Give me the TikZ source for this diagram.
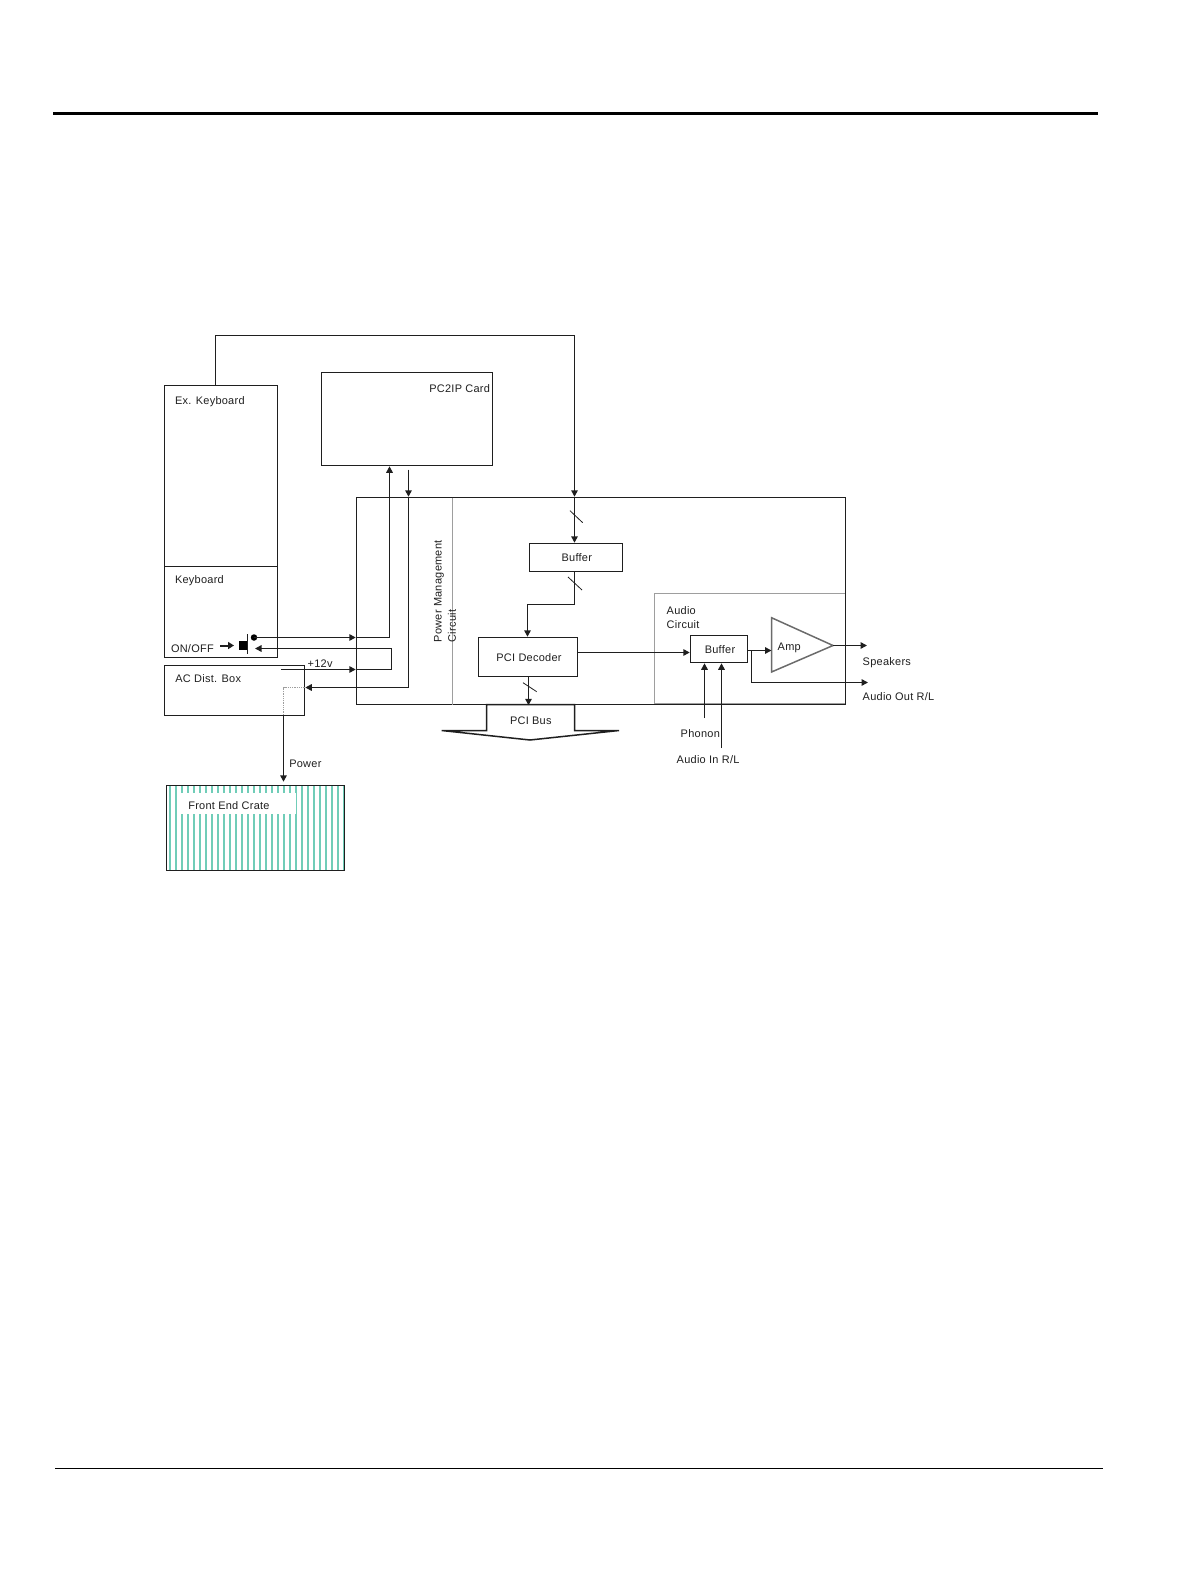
\documentclass[tikz,border=0pt]{standalone}
\usepackage{fontspec}
\setmainfont[LetterSpace=2.5]{Liberation Sans}
\usetikzlibrary{fit,arrows.meta}
\definecolor{ink}{gray}{0.12}
\definecolor{paleline}{gray}{0.62}
\definecolor{ampline}{gray}{0.42}
\definecolor{stripe}{HTML}{70CDB8}
\tikzset{
  box/.style={draw=ink,line width=1.5bp,inner sep=0pt,rectangle},
  palebox/.style={draw=paleline,line width=1.5bp,inner sep=0pt,rectangle},
  lbl/.style={inner sep=0pt,outer sep=0pt,font=\fontsize{11}{12}\selectfont,text=ink},
  conn/.style={draw=ink,line width=1.5bp},
  arr/.style={conn,-{Triangle[length=6.5bp,width=6.5bp]}},
  tick/.style={draw=ink,line width=0.8bp}
}
\begin{document}
\begin{tikzpicture}[x=1bp,y=-1bp]
\useasboundingbox (0,0) rectangle (1190,1584);
% page rules
\coordinate (ruleAl) at (53,113.5); \coordinate (ruleAr) at (1098,113.5);
\coordinate (ruleBl) at (55,1468.5); \coordinate (ruleBr) at (1102.7,1468.5);
\draw[black,line width=3bp] (ruleAl) -- (ruleAr);
\draw[black,line width=1bp] (ruleBl) -- (ruleBr);
% crate
\begin{scope}
\clip (166.5,785.5) rectangle (344.5,870.5);
\foreach \i in {0,...,29} \fill[stripe] ({168.5+6*\i},785) rectangle ({170.5+6*\i},871);
\end{scope}
\node[draw=none,fill=white,inner sep=0pt,fit={(180,793)(295.7,814)}] (patch) {};
\node[box,fit={(166.5,785.5)(344.5,870.5)}] (crate) {};
\node[lbl,anchor=mid west] (cratelbl) at (188.3,807) {Front End Crate};
% boxes
\node[box,fit={(164.5,385.5)(277.5,566.5)}] (exkb) {};
\node[box,fit={(164.5,566.5)(277.5,657.5)}] (kb) {};
\node[box,fit={(164.5,665.5)(304.5,715.5)}] (ac) {};
\node[box,fit={(321.5,372.5)(492.5,465.5)}] (pc) {};
\node[palebox,fit={(654.5,593.5)(845.5,703.5)}] (audio) {};
\node[box,fit={(356.5,497.5)(845.5,704.5)}] (main) {};
\coordinate (pmtop) at (452.5,497.5);
\draw[paleline,line width=1.5bp] (pmtop) -- (pmtop |- main.south);
\node[box,fit={(529.5,543.5)(622.5,571.5)}] (bufa) {};
\node[box,fit={(478.5,637.5)(577.5,676.5)}] (dec) {};
\node[box,fit={(690.5,635.5)(747.5,662.5)}] (bufb) {};
% amp
\coordinate (ampa) at (771.5,617.7); \coordinate (ampb) at (771.5,672); \coordinate (ampc) at (833,645.5);
\draw[ampline,line width=1.5bp] (ampa) -- (ampc) -- (ampb) -- cycle;
% PCI bus
\coordinate (busa) at (486.5,704.5); \coordinate (busb) at (574.5,704.5);
\coordinate (busc) at (574.5,730.5); \coordinate (busd) at (619,730.5);
\coordinate (buse) at (530,740); \coordinate (busf) at (441.7,730.5); \coordinate (busg) at (486.5,730.5);
\draw[draw=ink,line width=1.5bp,fill=white] (busa) -- (busb) -- (busc) -- (busd) -- (buse) -- (busf) -- (busg) -- cycle;
% switch
\node[draw=none,fill=black,circle,minimum size=6.5bp,inner sep=0pt] (swdot) at (254,637.5) {};
\node[draw=none,fill=black,rectangle,minimum width=9bp,minimum height=9bp,inner sep=0pt] (swsq) at (243.5,645) {};
\coordinate (swbt) at (247.5,634); \coordinate (swbb) at (247.5,654);
\draw[ink,line width=1.5bp] (swbt) -- (swbb);
\coordinate (onarr) at (220,645.5);
\coordinate (onend) at (234,645.5);
\draw[draw=ink,line width=2bp,-{Triangle[length=6bp,width=7bp]}] (onarr) -- (onend);
% connectors
\coordinate (topl) at (215.5,335.5); \coordinate (topr) at (574.5,335.5);
\draw[arr] (exkb.north -| topl) -- (topl) -- (topr) -- (topr |- main.north);
\draw[arr] (topr |- main.north) -- (topr |- bufa.north);
\coordinate (jog) at (527.5,604.5); \coordinate (bufaout) at (574.5,571.5);
\draw[arr] (bufaout) -- (bufaout |- jog) -- (jog) -- (jog |- dec.north);
\coordinate (decout) at (528.5,676.5);
\draw[arr] (decout) -- (decout |- main.south);
% switch to PC2IP
\coordinate (upx) at (389.5,637.5);
\draw[arr] (swdot.center) -- (main.west |- swdot);
\draw[arr] (main.west |- swdot) -- (upx) -- (upx |- pc.south);
% PC2IP to AC box
\coordinate (dnst) at (408.5,469.5); \coordinate (dncor) at (408.5,687.5);
\draw[arr] (dnst) -- (dnst |- main.north);
\draw[arr] (dnst |- main.north) -- (dncor) -- (ac.east |- dncor);
% +12v
\coordinate (vst) at (281,669.5); \coordinate (vcorA) at (391.5,669.5); \coordinate (vcorB) at (391.5,648.5); \coordinate (vend) at (255,648.5);
\draw[arr] (vst) -- (main.west |- vst);
\draw[arr] (main.west |- vst) -- (vcorA) -- (vcorB) -- (vend);
% AC to crate
\coordinate (dotc) at (283.5,687.5);
\draw[paleline,line width=0.8bp,densely dotted] (ac.east |- dotc) -- (dotc) -- (dotc |- ac.south);
\draw[arr,shorten >=3bp] (dotc |- ac.south) -- (dotc |- crate.north);
% ticks
\coordinate (ta) at (570,510.7); \coordinate (tb) at (582.7,522.7);
\coordinate (tc) at (568,577); \coordinate (td) at (582,590);
\coordinate (te) at (523,682.7); \coordinate (tf) at (536.7,691.7);
\draw[tick] (ta) -- (tb); \draw[tick] (tc) -- (td); \draw[tick] (te) -- (tf);
% audio
\coordinate (decin) at (577.5,652.5);
\draw[arr] (decin) -- (bufb.west |- decin);
\coordinate (bout) at (747.5,650.5);
\draw[arr] (bout) -- (ampa |- bout);
\coordinate (spk) at (867,645.5);
\draw[arr] (ampc) -- (spk);
\coordinate (aoa) at (751.5,650.5); \coordinate (aob) at (751.5,682.5); \coordinate (aoc) at (868,682.5);
\draw[arr] (aoa) -- (aob) -- (aoc);
\coordinate (pho) at (704.5,718); \coordinate (ain) at (721.5,748);
\draw[arr] (pho) -- (pho |- bufb.south);
\draw[arr] (ain) -- (ain |- bufb.south);
% labels
\node[lbl,anchor=mid west] (t1) at (175,402) {Ex. Keyboard};
\node[lbl,anchor=mid east] (t2) at (490,390) {PC2IP Card};
\node[lbl,anchor=mid west] (t3) at (175,581) {Keyboard};
\node[lbl,anchor=mid west] (t4) at (171,650) {ON/OFF};
\node[lbl,anchor=mid west] (t5) at (307.7,665) {+12v};
\node[lbl,anchor=mid west] (t6) at (175.3,679.7) {AC Dist. Box};
\node[lbl,anchor=mid west] (t7) at (289.3,764.7) {Power};
\node[lbl,anchor=mid west] (t8) at (666.7,612) {Audio};
\node[lbl,anchor=mid west] (t9) at (666.7,625.7) {Circuit};
\node[lbl,anchor=mid] (t10) at (720,651) {Buffer};
\node[lbl,anchor=mid west] (t11) at (777.7,647.7) {Amp};
\node[lbl,anchor=mid west] (t12) at (862.7,663) {Speakers};
\node[lbl,anchor=mid west] (t13) at (862.7,698.3) {Audio Out R/L};
\node[lbl,anchor=mid west] (t14) at (680.7,735) {Phonon};
\node[lbl,anchor=mid west] (t15) at (676.7,761.3) {Audio In R/L};
\node[lbl,anchor=mid] (t16) at (576.8,559.3) {Buffer};
\node[lbl,anchor=mid] (t17) at (529,659) {PCI Decoder};
\node[lbl,anchor=mid] (t18) at (530.8,722) {PCI Bus};
\node[lbl,anchor=mid west,rotate=90] (t19) at (439,642.3) {Power Management};
\node[lbl,anchor=mid west,rotate=90] (t20) at (453.2,642.3) {Circuit};
\end{tikzpicture}
\end{document}
